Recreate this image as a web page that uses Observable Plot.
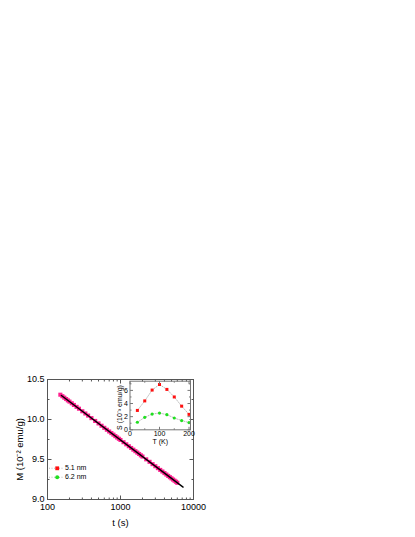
<!DOCTYPE html>
<html>
<head>
<meta charset="utf-8">
<script src="https://cdn.jsdelivr.net/npm/d3@7"></script>
<script src="https://cdn.jsdelivr.net/npm/@observablehq/plot@0.6"></script>
<style>
  html, body { margin: 0; padding: 0; background: #fff; }
  #wrap { position: relative; width: 415px; height: 537px; overflow: hidden; font-family: "Liberation Sans", Arial, sans-serif; }
  #wrap svg { position: absolute; overflow: visible; }
  #legend { position: absolute; left: 48px; top: 464px; font-size: 7px; line-height: 8.5px; color: #000; }
  #legend .row { display: flex; align-items: center; height: 8.5px; }
  #legend svg { position: static; }
</style>
</head>
<body>
<div id="wrap"><div id="legend"></div></div>
<script>
// ---- Main plot data: relaxation M(t) ----
const tValues = [150,160,170,180,190,200,215,230,250,270,300,330,360,400,450,500,550,600,650,700,750,800,850,900,950,1000,1100,1200,1300,1400,1500,1600,1700,1800,1900,2000,2250,2500,2750,3000,3250,3500,3750,4000,4250,4500,4750,5000,5250,5500,5750,6000];
const mValues = [10.310,10.291,10.273,10.256,10.239,10.224,10.203,10.182,10.158,10.135,10.103,10.075,10.049,10.017,9.982,9.951,9.922,9.896,9.872,9.850,9.830,9.811,9.792,9.775,9.759,9.744,9.716,9.690,9.666,9.644,9.623,9.604,9.586,9.569,9.552,9.537,9.502,9.471,9.442,9.416,9.392,9.370,9.350,9.330,9.312,9.295,9.279,9.264,9.249,9.235,9.222,9.209];
// fit line (straight in log t)
const fitT = [155, 7200];
const fitM = [10.300, 9.155];

// ---- Inset data: S(T) ----
const insetT = [25,50,75,100,125,150,175,200];
const s51 = [2.95,4.40,6.05,6.90,6.15,5.00,3.60,2.35];
const s62 = [1.15,1.90,2.40,2.55,2.30,1.80,1.40,1.10];

// ---- Tick values / labels ----
const xMajor = [100,1000,10000];
const xMinor = [200,300,400,500,600,700,800,900,2000,3000,4000,5000,6000,7000,8000,9000];
const yMajor = [9.0,9.5,10.0,10.5];
const yMinor = [9.25,9.75,10.25];
const insetXMajor = [0,100,200];
const insetXMinor = [50,150];
const insetYMajor = [0,2,4,6];
const insetYMinor = [1,3,5,7];

const legendLabels = ["5.1 nm","6.2 nm"];
const legendColors = ["#ff1010","#20e020"];
const pink = "#ff1f8f";
const axisColor = "#555";
const font = "'Liberation Sans', Arial, sans-serif";

const mainData = tValues.map((t,i) => ({t, m: mValues[i]}));
const fitData = fitT.map((t,i) => ({t, m: fitM[i]}));
const insetA = insetT.map((T,i) => ({T, s: s51[i]}));
const insetB = insetT.map((T,i) => ({T, s: s62[i]}));

// inward tick symbol
const tick = (dx, dy) => ({draw(ctx){ ctx.moveTo(0,0); ctx.lineTo(dx,dy); }});
function inwardTicks(xs, ys, majorLen, minorLen, xMin, yMin, color) {
  const o = {fill: "none", stroke: color, strokeWidth: 1};
  return [
    Plot.dot(xs, {...o, x: d=>d, frameAnchor: "bottom", symbol: tick(0,-majorLen)}),
    Plot.dot(xs, {...o, x: d=>d, frameAnchor: "top", symbol: tick(0,majorLen)}),
    Plot.dot(xMin, {...o, x: d=>d, frameAnchor: "bottom", symbol: tick(0,-minorLen)}),
    Plot.dot(xMin, {...o, x: d=>d, frameAnchor: "top", symbol: tick(0,minorLen)}),
    Plot.dot(ys, {...o, y: d=>d, frameAnchor: "left", symbol: tick(majorLen,0)}),
    Plot.dot(ys, {...o, y: d=>d, frameAnchor: "right", symbol: tick(-majorLen,0)}),
    Plot.dot(yMin, {...o, y: d=>d, frameAnchor: "left", symbol: tick(minorLen,0)}),
    Plot.dot(yMin, {...o, y: d=>d, frameAnchor: "right", symbol: tick(-minorLen,0)})
  ];
}

const main = Plot.plot({
  width: 415, height: 537,
  marginLeft: 47, marginRight: 222, marginTop: 379, marginBottom: 38,
  style: {fontFamily: font, fontSize: "9px", color: "#000", background: "transparent"},
  x: {type: "log", domain: [100, 10000]},
  y: {domain: [9.0, 10.5]},
  marks: [
    Plot.dot(mainData, {x: "t", y: "m", symbol: "square", r: 2.3, fill: pink, stroke: "none"}),
    Plot.line(fitData, {x: "t", y: "m", stroke: "#000", strokeWidth: 1.4}),
    Plot.frame({stroke: axisColor, strokeWidth: 1}),
    ...inwardTicks(xMajor, yMajor, 4, 2, xMinor, yMinor, axisColor),
    Plot.axisX(xMajor, {tickSize: 0, tickPadding: 4, tickFormat: d => String(d), label: null, fontSize: 9}),
    Plot.axisY(yMajor, {tickSize: 0, tickPadding: 3, tickFormat: d3.format(".1f"), label: null, fontSize: 9}),
    Plot.text(["t (s)"], {text: d=>d, frameAnchor: "bottom", dy: 26, fontSize: 9.5}),
    Plot.text(["M (10⁻² emu/g)"], {text: d=>d, frameAnchor: "left", textAnchor: "middle", rotate: -90, dx: -28, dy: 10, fontSize: 9.5})
  ]
});
main.style.left = "0px"; main.style.top = "0px";
document.getElementById("wrap").prepend(main);

const inset = Plot.plot({
  width: 90, height: 70,
  marginLeft: 19.5, marginRight: 10, marginTop: 5.7, marginBottom: 15.7,
  style: {fontFamily: font, fontSize: "7px", color: "#000", background: "transparent"},
  x: {domain: [0, 205]},
  y: {domain: [0, 7.4]},
  marks: [
    Plot.line(insetA, {x: "T", y: "s", stroke: "#aaa", strokeWidth: 0.8, strokeDasharray: "1,1.5"}),
    Plot.line(insetB, {x: "T", y: "s", stroke: "#aaa", strokeWidth: 0.8, strokeDasharray: "1,1.5"}),
    Plot.dot(insetA, {x: "T", y: "s", symbol: "square", r: 1.7, fill: legendColors[0], stroke: "none"}),
    Plot.dot(insetB, {x: "T", y: "s", symbol: "circle", r: 1.6, fill: legendColors[1], stroke: "none"}),
    Plot.frame({stroke: "#777", strokeWidth: 1}),
    ...inwardTicks(insetXMajor, insetYMajor, 3, 1.5, insetXMinor, insetYMinor, "#777"),
    Plot.axisX(insetXMajor, {tickSize: 0, tickPadding: 1, label: null, fontSize: 7}),
    Plot.axisY(insetYMajor, {tickSize: 0, tickPadding: 2, label: null, fontSize: 7}),
    Plot.text(["T (K)"], {text: d=>d, frameAnchor: "bottom", dy: 14, fontSize: 7}),
    Plot.text(["S (10⁻³ emu/g)"], {text: d=>d, frameAnchor: "left", textAnchor: "middle", rotate: -90, dx: -10, dy: 2, fontSize: 7})
  ]
});
inset.style.left = "110px"; inset.style.top = "375px";
document.getElementById("wrap").appendChild(inset);

// legend
const legend = document.getElementById("legend");
legendLabels.forEach((lab, i) => {
  const row = document.createElement("div");
  row.className = "row";
  const marker = i === 0
    ? `<rect x="7.3" y="2.4" width="3.8" height="3.8" fill="${legendColors[i]}"/>`
    : `<circle cx="9.2" cy="4.25" r="2" fill="${legendColors[i]}"/>`;
  row.innerHTML = `<svg width="17" height="8.5"><line x1="1" x2="16" y1="4.25" y2="4.25" stroke="#aaa" stroke-width="0.8" stroke-dasharray="1,1.5"/>${marker}</svg><span>${lab}</span>`;
  legend.appendChild(row);
});
</script>
</body>
</html>
